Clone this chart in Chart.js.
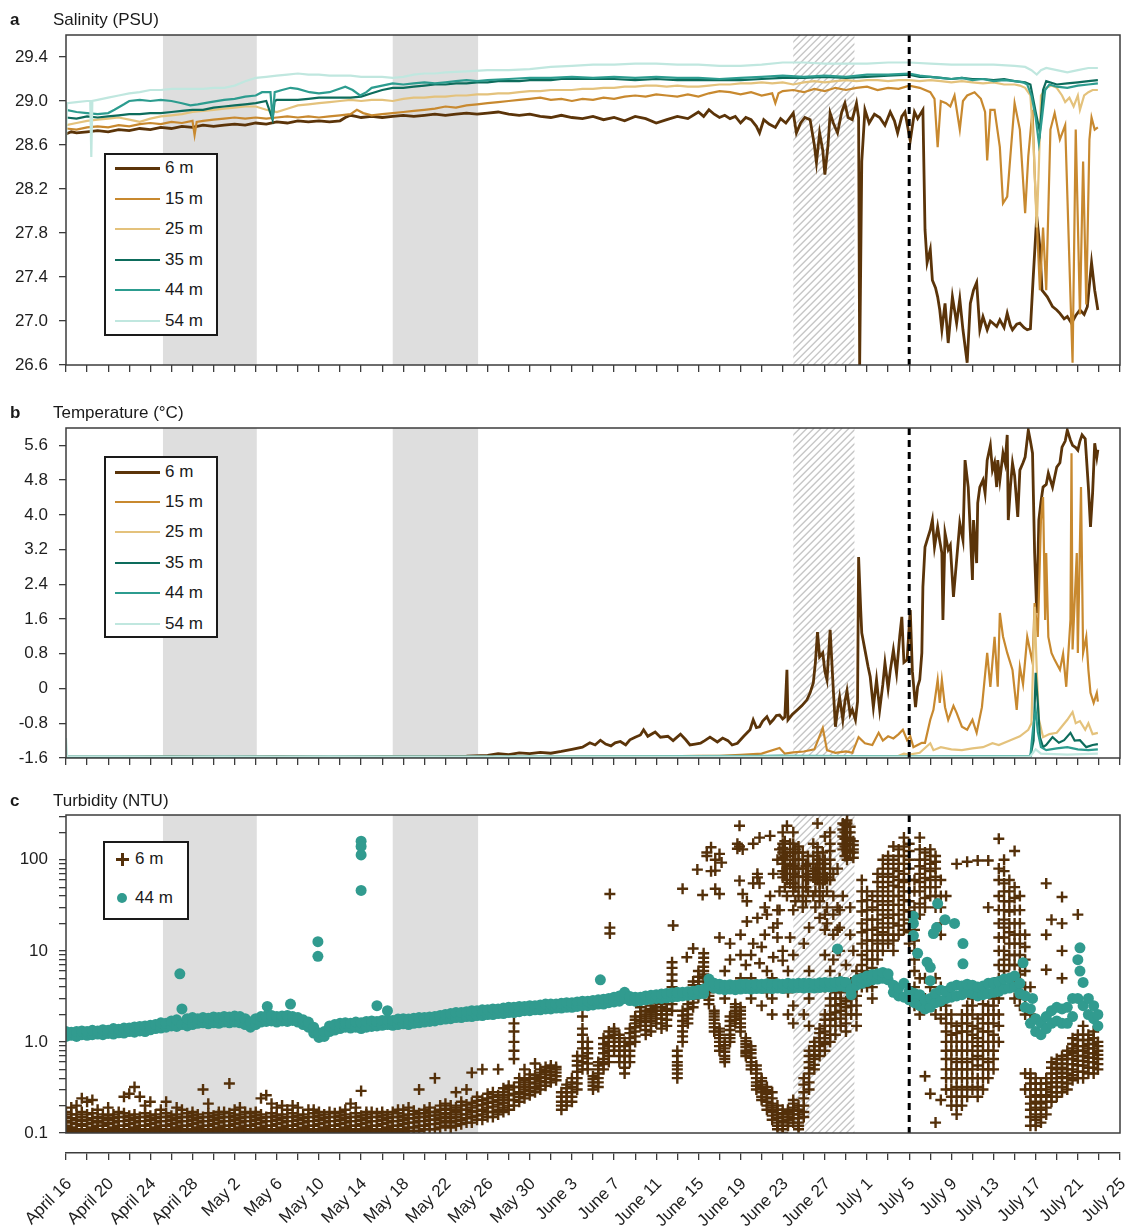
<!DOCTYPE html>
<html>
<head>
<meta charset="utf-8">
<script src="https://cdn.jsdelivr.net/npm/chart.js@4.4.1/dist/chart.umd.min.js"></script>
<style>
  html, body { margin:0; padding:0; background:#ffffff; }
  body { width:1129px; height:1232px; position:relative; overflow:hidden; font-family:"Liberation Sans", Arial, sans-serif; color:#1a1a1a; }
  canvas { position:absolute; left:0; z-index:1; }
  .ptitle { position:absolute; left:53px; font-size:17px; line-height:20px; white-space:nowrap; z-index:3; }
  .pletter { position:absolute; left:10px; font-size:17px; font-weight:bold; line-height:20px; z-index:3; }
  .legend { position:absolute; border:2px solid #1a1a1a; background:#fff; box-sizing:border-box; z-index:3; }
  .lrow { position:absolute; font-size:17px; line-height:20px; white-space:nowrap; }
  .lline { position:absolute; height:3px; }
</style>
</head>
<body>
<div class="pletter" style="top:10px">a</div><div class="ptitle" style="top:10px">Salinity (PSU)</div>
<div class="pletter" style="top:403px">b</div><div class="ptitle" style="top:403px">Temperature (°C)</div>
<div class="pletter" style="top:791px">c</div><div class="ptitle" style="top:791px">Turbidity (NTU)</div>
<canvas id="cA" width="1129" height="380" style="top:0px;width:1129px;height:380px"></canvas>
<canvas id="cB" width="1129" height="395" style="top:380px;width:1129px;height:395px"></canvas>
<canvas id="cC" width="1129" height="370" style="top:775px;width:1129px;height:370px"></canvas>
<canvas id="cD" width="1129" height="87" style="top:1145px;width:1129px;height:87px"></canvas>
<div id="legA" class="legend" style="left:104px;top:153px;width:114px;height:183px"></div>
<div id="legB" class="legend" style="left:104px;top:456px;width:114px;height:182px"></div>
<div id="legC" class="legend" style="left:103px;top:841px;width:86px;height:79px"></div>
<script>
// ---------- categories / labels ----------
const depths = ['6 m', '15 m', '25 m', '35 m', '44 m', '54 m'];
const turbDepths = ['6 m', '44 m'];
const dateLabels = ['April 16','April 20','April 24','April 28','May 2','May 6','May 10','May 14','May 18','May 22','May 26','May 30','June 3','June 7','June 11','June 15','June 19','June 23','June 27','July 1','July 5','July 9','July 13','July 17','July 21','July 25'];
const salTickLabels = ['26.6','27.0','27.4','27.8','28.2','28.6','29.0','29.4'];
const tempTickLabels = ['-1.6','-0.8','0','0.8','1.6','2.4','3.2','4.0','4.8','5.6'];
const turbTickLabels = {0.1:'0.1', 1:'1.0', 10:'10', 100:'100'};
// days since April 16
const grayBands = [[9.2, 18.1], [31.0, 39.1]];
const hatchBand = [69.0, 74.8];
const markerDay = 80;

// ---------- salinity (PSU): [day, value] ----------
const sal6 = [[0,28.70],[0.5,28.72],[1,28.71],[2,28.72],[3,28.73],[4,28.72],[5,28.74],[6,28.73],[7,28.75],[8,28.74],[9,28.76],[10,28.75],[11,28.77],[12,28.76],[13,28.78],[14,28.77],[15,28.78],[16,28.79],[17,28.78],[18,28.80],[19,28.79],[20,28.81],[21,28.80],[22,28.82],[23,28.81],[24,28.82],[25,28.81],[26,28.82],[26.5,28.85],[27,28.87],[27.5,28.86],[28,28.85],[29,28.86],[30,28.85],[31,28.86],[32,28.87],[33,28.86],[34,28.87],[35,28.88],[36,28.87],[37,28.88],[38,28.89],[39,28.88],[40,28.89],[41,28.90],[42,28.88],[43,28.87],[44,28.88],[45,28.86],[46,28.85],[47,28.87],[48,28.85],[49,28.84],[50,28.86],[51,28.83],[52,28.85],[53,28.82],[54,28.86],[55,28.84],[56,28.80],[57,28.83],[58,28.86],[59,28.84],[60,28.90],[60.5,28.86],[61,28.92],[61.5,28.88],[62,28.85],[62.5,28.87],[63,28.84],[63.5,28.86],[64,28.80],[64.5,28.85],[65,28.83],[65.5,28.77],[65.8,28.71],[66.2,28.83],[66.7,28.79],[67.3,28.76],[67.8,28.84],[68.3,28.80],[69,28.89],[69.3,28.71],[69.7,28.80],[70.1,28.85],[70.6,28.83],[71,28.60],[71.2,28.44],[71.5,28.71],[71.8,28.55],[72,28.33],[72.3,28.60],[72.5,28.89],[72.8,28.80],[73.2,28.71],[73.6,28.90],[73.9,28.98],[74.2,28.85],[74.6,28.83],[75,28.98],[75.2,28.85],[75.3,26.60],[75.5,28.45],[75.8,28.92],[76.2,28.80],[76.7,28.88],[77.2,28.85],[77.7,28.78],[78.2,28.90],[78.6,28.82],[78.9,28.71],[79.3,28.86],[79.6,28.90],[80.1,28.64],[80.5,28.90],[80.8,28.84],[81.3,28.92],[81.5,27.83],[81.7,27.53],[82.0,27.65],[82.2,27.37],[82.5,27.30],[82.7,27.22],[82.9,27.10],[83.1,26.92],[83.4,27.16],[83.7,26.80],[84.1,27.22],[84.5,26.98],[84.8,27.20],[85.1,26.92],[85.5,26.62],[85.8,27.16],[86.1,27.28],[86.4,27.35],[86.7,26.92],[87.0,27.04],[87.4,26.92],[87.7,27.00],[87.95,26.98],[88.3,26.95],[88.6,27.01],[89.0,26.94],[89.3,27.07],[89.6,26.96],[89.8,26.92],[90.2,26.97],[90.5,26.98],[90.9,26.94],[91.2,26.92],[91.5,26.93],[91.75,27.37],[92.1,27.95],[92.4,27.67],[92.6,27.28],[93.1,27.22],[93.6,27.13],[94.0,27.10],[94.3,27.07],[94.7,27.02],[95.0,27.04],[95.4,26.98],[95.8,27.05],[96.2,27.10],[96.6,27.06],[96.9,27.13],[97.3,27.53],[97.6,27.28],[97.9,27.10]];
const sal15 = [[0,28.75],[1,28.74],[2,28.76],[3,28.77],[4,28.76],[5,28.78],[6,28.77],[7,28.79],[8,28.80],[9,28.79],[10,28.81],[11,28.80],[12,28.82],[12.2,28.69],[12.4,28.81],[13,28.82],[14,28.83],[15,28.84],[16,28.85],[17,28.84],[18,28.85],[19,28.84],[20,28.85],[21,28.86],[22,28.85],[23,28.86],[24,28.85],[25,28.86],[26,28.87],[27,28.88],[27.6,28.92],[28.2,28.89],[29,28.87],[30,28.88],[31,28.89],[32,28.90],[33,28.91],[34,28.92],[35,28.93],[36,28.95],[37,28.94],[38,28.96],[39,28.97],[40,28.98],[41,28.99],[42,29.00],[43,29.01],[44,29.02],[45,29.03],[46,29.01],[47,29.02],[48,29.00],[49,29.02],[50,29.01],[51,29.03],[52,29.02],[53,29.04],[54,29.05],[55,29.04],[56,29.06],[57,29.05],[58,29.04],[59,29.06],[60,29.04],[61,29.07],[62,29.09],[63,29.08],[64,29.06],[65,29.08],[66,29.05],[67,29.07],[67.3,28.98],[67.6,29.07],[68,29.09],[69,29.10],[70,29.08],[71,29.11],[72,29.09],[73,29.12],[74,29.10],[75,29.12],[76,29.13],[77,29.10],[78,29.12],[79,29.11],[80,29.14],[81,29.12],[82,29.08],[82.4,29.02],[82.7,28.58],[83.0,29.00],[83.5,28.98],[83.9,28.95],[84.3,29.05],[84.8,28.74],[85.1,29.00],[85.5,29.05],[86.2,29.08],[86.8,29.02],[87.2,28.90],[87.4,28.46],[87.7,28.92],[88.1,28.92],[88.6,28.58],[88.9,28.07],[89.3,28.13],[89.6,28.50],[89.8,28.74],[90.0,28.98],[90.5,28.74],[91.0,27.98],[91.3,28.50],[91.7,28.92],[91.9,28.35],[92.4,27.28],[92.7,27.85],[93.0,27.28],[93.4,28.74],[93.8,28.89],[94.3,28.65],[94.8,28.78],[95.3,27.22],[95.5,26.62],[95.8,28.74],[96.2,27.06],[96.5,28.45],[96.8,27.15],[97.1,28.65],[97.3,28.85],[97.6,28.74],[97.9,28.76]];
const sal25 = [[0,28.78],[1,28.80],[2,28.82],[3,28.83],[4,28.84],[5,28.85],[6,28.83],[7,28.81],[8,28.84],[9,28.86],[10,28.87],[11,28.88],[12,28.90],[13,28.91],[14,28.92],[15,28.93],[16,28.94],[17,28.95],[18,28.95],[19,28.92],[20,28.90],[21,28.93],[22,28.96],[23,28.97],[24,28.98],[25,28.99],[26,29.00],[27,29.01],[28,29.00],[29,29.01],[30,29.01],[31,29.00],[32,29.02],[33,29.03],[34,29.03],[35,29.04],[36,29.04],[37,29.05],[38,29.05],[39,29.06],[40,29.06],[41,29.07],[42,29.07],[43,29.08],[44,29.09],[45,29.09],[46,29.10],[47,29.10],[48,29.10],[49,29.11],[50,29.11],[51,29.12],[52,29.12],[53,29.13],[54,29.13],[55,29.14],[56,29.14],[57,29.13],[58,29.14],[59,29.13],[60,29.13],[61,29.14],[62,29.15],[63,29.15],[64,29.16],[65,29.16],[66,29.17],[67,29.16],[68,29.17],[69,29.15],[70,29.17],[71,29.18],[72,29.17],[73,29.18],[74,29.19],[75,29.18],[76,29.19],[77,29.19],[78,29.18],[79,29.19],[80,29.19],[81,29.18],[82,29.19],[83,29.18],[84,29.17],[85,29.18],[86,29.17],[87,29.16],[88,29.17],[89,29.15],[90,29.15],[90.5,29.14],[91,29.12],[91.5,29.05],[91.8,28.60],[92.1,27.85],[92.3,28.40],[92.5,29.05],[93,29.12],[93.5,29.14],[94,29.12],[94.5,29.05],[94.8,28.99],[95.2,29.03],[95.6,28.95],[96,29.05],[96.2,28.92],[96.6,29.05],[97,29.08],[97.4,29.10],[97.9,29.10]];
const sal35 = [[0,28.85],[1,28.84],[2,28.86],[3,28.85],[4,28.86],[5,28.87],[6,28.88],[7,28.88],[8,28.89],[9,28.89],[10,28.90],[11,28.91],[12,28.92],[13,28.92],[14,28.94],[15,28.95],[16,28.96],[17,28.97],[18,28.98],[19,29.00],[19.6,28.83],[19.8,29.00],[20,29.01],[21,29.01],[22,29.01],[23,29.02],[24,29.03],[25,29.03],[26,29.03],[27,29.03],[28,29.04],[29,29.07],[30,29.10],[31,29.12],[32,29.12],[33,29.13],[34,29.14],[35,29.15],[36,29.15],[37,29.16],[38,29.16],[39,29.17],[40,29.17],[41,29.18],[42,29.18],[43,29.18],[44,29.19],[45,29.19],[46,29.19],[47,29.20],[48,29.20],[49,29.20],[50,29.20],[52,29.20],[54,29.19],[56,29.20],[58,29.19],[60,29.19],[62,29.19],[64,29.19],[66,29.20],[68,29.21],[70,29.21],[72,29.22],[74,29.21],[76,29.22],[78,29.23],[80,29.24],[81,29.22],[82,29.22],[83,29.21],[84,29.20],[85,29.21],[86,29.20],[87,29.20],[88,29.19],[89,29.20],[90,29.18],[91,29.17],[91.5,29.15],[92,28.90],[92.4,28.72],[92.7,29.10],[93,29.18],[94,29.15],[95,29.16],[96,29.17],[97,29.18],[97.9,29.19]];
const sal44 = [[0,28.92],[1,28.90],[2,28.89],[3,28.88],[4,28.89],[4.6,28.92],[5.5,28.97],[6,29.00],[7,29.01],[8,29.00],[9,29.01],[10,29.00],[11,28.98],[11.8,28.96],[12.5,28.97],[13.7,28.99],[15,29.01],[16,29.02],[17,29.04],[18,29.05],[18.6,29.08],[19.4,29.08],[19.6,28.83],[19.8,29.08],[20.5,29.10],[21.3,29.12],[22,29.11],[23.1,29.08],[24,29.07],[25,29.08],[26.5,29.13],[27.2,29.10],[27.9,29.05],[28.5,29.08],[29,29.12],[30,29.14],[31,29.16],[32,29.15],[33,29.16],[34,29.17],[35,29.16],[36,29.17],[37,29.18],[38,29.19],[39,29.18],[40,29.19],[42,29.20],[44,29.21],[46,29.21],[48,29.22],[50,29.21],[52,29.22],[54,29.21],[56,29.22],[58,29.21],[60,29.21],[62,29.20],[64,29.21],[66,29.22],[68,29.23],[70,29.22],[72,29.23],[74,29.22],[76,29.24],[78,29.24],[80,29.25],[81,29.23],[82,29.22],[83,29.21],[84,29.20],[85,29.21],[86,29.19],[87,29.20],[88,29.18],[89,29.19],[90,29.18],[90.8,29.17],[91.2,29.15],[91.6,29.05],[92,28.85],[92.3,28.62],[92.6,28.85],[92.9,29.10],[93.3,29.15],[94,29.13],[95,29.12],[96,29.14],[97,29.15],[97.9,29.16]];
const sal54 = [[0,28.62],[0.1,28.98],[1,28.99],[2,29.00],[2.3,29.00],[2.4,28.49],[2.5,29.00],[3,29.01],[4,29.03],[5,29.05],[6,29.07],[7,29.08],[8,29.10],[9,29.10],[10,29.11],[11,29.11],[12,29.11],[13,29.11],[14,29.12],[15,29.12],[16,29.14],[17,29.18],[18,29.21],[19,29.22],[20,29.23],[21,29.24],[22,29.25],[23,29.24],[24,29.24],[25,29.23],[26,29.23],[27,29.23],[28,29.22],[29,29.22],[30,29.22],[31,29.21],[32,29.22],[33,29.24],[34,29.25],[35,29.25],[36,29.26],[38,29.27],[40,29.28],[42,29.28],[44,29.29],[46,29.31],[48,29.32],[50,29.33],[52,29.33],[54,29.34],[56,29.34],[58,29.33],[60,29.33],[62,29.32],[64,29.32],[66,29.33],[68,29.35],[70,29.35],[72,29.34],[74,29.34],[76,29.34],[78,29.35],[80,29.35],[82,29.34],[84,29.33],[86,29.33],[88,29.33],[90,29.32],[91,29.31],[91.6,29.28],[92.1,29.24],[92.5,29.28],[93,29.30],[94,29.28],[95,29.26],[96,29.28],[97,29.30],[97.9,29.30]];

// ---------- temperature (°C): [day, value] ----------
const temp6 = [[0,-1.58],[5,-1.58],[10,-1.57],[15,-1.58],[20,-1.57],[25,-1.58],[30,-1.57],[35,-1.57],[38,-1.56],[40,-1.54],[41,-1.50],[42,-1.52],[43,-1.48],[44,-1.50],[45,-1.47],[46,-1.49],[47,-1.45],[48,-1.40],[49,-1.35],[49.7,-1.25],[50.2,-1.30],[50.7,-1.19],[51.2,-1.28],[51.7,-1.32],[52.1,-1.25],[52.6,-1.22],[53.1,-1.30],[53.5,-1.18],[54,-1.12],[54.5,-1.07],[54.8,-0.95],[55.2,-1.10],[55.9,-1.00],[56.4,-1.12],[57.1,-1.10],[57.6,-1.20],[58.3,-1.05],[58.8,-1.18],[59.2,-1.30],[59.7,-1.28],[60.2,-1.26],[60.6,-1.20],[61.1,-1.12],[61.8,-1.23],[62.3,-1.14],[62.8,-1.20],[63.2,-1.30],[63.7,-1.26],[64.3,-1.10],[64.9,-0.95],[65.2,-0.72],[65.5,-0.90],[65.8,-0.88],[66.1,-0.75],[66.5,-0.65],[66.8,-0.80],[67.1,-0.72],[67.4,-0.62],[67.7,-0.61],[68.0,-0.70],[68.2,-0.66],[68.4,0.43],[68.5,-0.72],[68.9,-0.60],[69.4,-0.49],[69.8,-0.40],[70.3,-0.26],[70.6,-0.10],[70.9,0.13],[71.1,0.60],[71.3,1.30],[71.5,0.73],[71.8,0.82],[72.0,0.40],[72.2,0.20],[72.5,1.35],[72.8,-0.03],[73.0,-0.88],[73.2,-0.50],[73.4,-0.20],[73.7,-0.72],[73.9,-0.30],[74.1,-0.05],[74.4,-0.60],[74.6,-0.49],[74.9,-0.72],[75.1,-0.30],[75.2,3.03],[75.4,1.80],[75.5,1.28],[75.8,0.89],[76.1,0.50],[76.3,0.27],[76.6,-0.43],[76.9,0.20],[77.2,-0.49],[77.5,0.10],[77.7,0.59],[78.0,0.00],[78.2,0.40],[78.5,0.89],[78.8,0.35],[79.1,1.20],[79.3,1.65],[79.5,0.60],[79.8,0.66],[80.1,1.81],[80.3,0.40],[80.6,-0.43],[80.8,0.04],[81.0,0.20],[81.2,0.82],[81.3,2.34],[81.5,3.26],[81.8,3.50],[82.0,3.65],[82.2,3.88],[82.4,3.26],[82.7,3.72],[82.9,3.40],[83.1,3.12],[83.2,1.58],[83.4,3.58],[83.7,3.20],[83.9,3.30],[84.2,2.11],[84.5,2.96],[84.8,3.81],[85.1,3.42],[85.3,5.26],[85.6,4.64],[85.8,3.60],[86.0,2.50],[86.1,3.88],[86.4,2.89],[86.5,4.27],[86.7,4.64],[87.0,4.80],[87.2,4.50],[87.4,5.26],[87.7,5.60],[87.9,5.03],[88.1,5.20],[88.3,4.64],[88.4,5.26],[88.6,4.80],[88.9,5.42],[89.1,5.20],[89.3,5.84],[89.4,3.88],[89.6,4.64],[89.8,5.19],[90.0,4.90],[90.3,3.95],[90.5,5.03],[90.8,5.20],[91.0,5.33],[91.3,5.95],[91.5,5.70],[91.7,5.42],[91.9,3.12],[92.1,1.74],[92.3,3.88],[92.5,4.30],[92.7,4.64],[93.0,4.70],[93.2,4.96],[93.4,4.80],[93.6,4.64],[94.0,5.10],[94.3,5.20],[94.5,5.56],[94.8,5.70],[95.0,5.95],[95.3,5.72],[95.5,5.60],[95.8,5.55],[96.0,5.49],[96.2,5.70],[96.4,5.84],[96.7,5.75],[97.0,4.64],[97.2,3.72],[97.4,4.50],[97.6,5.65],[97.8,5.33],[97.9,5.50]];
const temp15 = [[0,-1.58],[10,-1.58],[20,-1.58],[30,-1.58],[40,-1.58],[50,-1.57],[55,-1.57],[60,-1.55],[62,-1.55],[64,-1.53],[66,-1.50],[67.7,-1.37],[68.2,-1.50],[69,-1.47],[70,-1.45],[71,-1.40],[71.8,-0.91],[72.2,-1.42],[73,-1.48],[74,-1.45],[74.6,-1.48],[75.2,-1.12],[75.8,-1.26],[76.5,-1.30],[77.1,-1.02],[77.5,-1.20],[78.0,-1.10],[78.5,-1.15],[79.0,-1.05],[79.4,-0.95],[79.8,-1.19],[80.1,-1.10],[80.4,-1.35],[80.8,-1.30],[81.2,-1.25],[81.5,-1.25],[82.0,-0.72],[82.3,-0.49],[82.7,0.20],[82.9,-0.33],[83.1,0.20],[83.4,-0.43],[83.7,-0.72],[84.2,-0.40],[84.5,-0.56],[85.0,-0.88],[85.5,-0.95],[86.0,-0.72],[86.4,-1.02],[86.9,-0.43],[87.4,0.82],[87.7,0.04],[88.1,1.19],[88.4,0.04],[88.6,1.74],[88.9,1.20],[89.3,0.82],[89.8,0.43],[90.2,-0.49],[90.5,0.50],[90.8,0.10],[91.2,1.19],[91.7,0.60],[91.9,1.97],[92.2,1.19],[92.5,3.88],[92.7,4.41],[92.9,1.58],[93.0,3.12],[93.2,1.19],[93.5,0.82],[93.8,0.66],[94.3,0.43],[94.6,0.80],[94.9,0.04],[95.3,1.58],[95.4,5.42],[95.5,0.90],[95.9,3.12],[96.0,0.82],[96.3,4.64],[96.5,0.82],[96.8,1.19],[97.0,0.43],[97.2,-0.10],[97.5,-0.33],[97.8,-0.10],[97.9,-0.30]];
const temp25 = [[0,-1.58],[20,-1.58],[40,-1.58],[60,-1.57],[70,-1.56],[75,-1.56],[79,-1.55],[79.5,-1.50],[80,-1.52],[81,-1.48],[82,-1.26],[82.3,-1.42],[83,-1.35],[84,-1.40],[85,-1.42],[86,-1.38],[87,-1.35],[87.9,-1.26],[88.5,-1.30],[89.6,-1.19],[90.5,-1.10],[91.3,-0.95],[91.6,-0.80],[91.9,1.88],[92.1,0.43],[92.3,-0.70],[92.7,-1.12],[93.3,-1.05],[94.0,-1.02],[95.0,-0.72],[95.5,-0.54],[95.8,-0.80],[96.2,-0.75],[96.7,-0.95],[97.0,-0.80],[97.4,-1.05],[97.9,-1.02]];
const temp35 = [[0,-1.59],[30,-1.59],[60,-1.58],[68,-1.55],[69,-1.58],[75,-1.57],[80,-1.57],[88,-1.57],[91.5,-1.56],[91.8,-1.20],[92.0,0.36],[92.2,-0.33],[92.4,-1.12],[92.7,-1.35],[93.0,-1.30],[93.6,-1.12],[94.2,-1.25],[94.7,-1.19],[95.3,-1.02],[95.7,-1.20],[96.2,-1.19],[96.8,-1.35],[97.4,-1.30],[97.9,-1.28]];
const temp44 = [[0,-1.57],[40,-1.57],[69,-1.55],[80,-1.56],[91.5,-1.55],[91.8,-0.80],[92.0,-0.50],[92.2,-1.00],[92.5,-1.35],[93,-1.42],[94,-1.38],[95,-1.35],[96,-1.40],[97,-1.42],[97.9,-1.40]];
const temp54 = [[0,-1.14],[0.1,-1.56],[40,-1.57],[80,-1.57],[91.5,-1.56],[92,-1.40],[92.5,-1.50],[95,-1.52],[97.9,-1.50]];

// ---------- turbidity (NTU) ----------
// 44 m: [day, lower, upper] of the dense band
const tur44 = [[0,1.15,1.30],[0.5,1.18,1.28],[1,1.15,1.30],[1.5,1.20,1.32],[2,1.18,1.30],[2.5,1.20,1.34],[3,1.22,1.32],[3.5,1.20,1.36],[4,1.24,1.34],[4.5,1.22,1.40],[5,1.26,1.38],[5.5,1.25,1.42],[6,1.30,1.42],[6.5,1.28,1.46],[7,1.32,1.48],[7.5,1.30,1.50],[8,1.36,1.52],[8.5,1.40,1.55],[9,1.42,1.62],[9.5,1.45,1.60],[10,1.50,1.70],[10.5,1.48,1.75],[11,1.55,2.30],[11.5,1.50,1.80],[12,1.55,1.85],[12.5,1.60,1.80],[13,1.62,1.85],[13.5,1.58,1.82],[14,1.62,1.88],[14.5,1.60,1.85],[15,1.65,1.90],[15.5,1.62,1.88],[16,1.65,1.92],[16.5,1.62,1.90],[17,1.55,1.80],[17.5,1.45,1.65],[18,1.55,1.80],[18.5,1.65,1.90],[19,1.68,1.92],[19.5,1.70,1.95],[20,1.65,1.90],[20.5,1.70,1.92],[21,1.68,1.95],[21.5,1.72,1.90],[22,1.65,1.85],[22.5,1.55,1.75],[23,1.45,1.65],[23.5,1.25,1.45],[24,1.12,1.25],[24.5,1.15,1.30],[25,1.30,1.50],[25.5,1.35,1.55],[26,1.40,1.60],[26.5,1.45,1.62],[27,1.42,1.60],[27.5,1.45,1.65],[28,1.40,1.62],[28.5,1.45,1.68],[29,1.48,1.70],[29.5,1.50,1.68],[30,1.52,1.72],[30.5,1.55,1.75],[31,1.52,1.72],[31.5,1.55,1.78],[32,1.58,1.80],[32.5,1.55,1.78],[33,1.60,1.82],[33.5,1.62,1.85],[34,1.65,1.85],[34.5,1.68,1.88],[35,1.70,1.90],[35.5,1.75,1.95],[36,1.78,2.00],[36.5,1.80,2.05],[37,1.85,2.10],[37.5,1.85,2.10],[38,1.90,2.15],[38.5,1.90,2.20],[39,1.95,2.20],[39.5,1.95,2.25],[40,2.00,2.25],[40.5,2.00,2.30],[41,2.05,2.30],[41.5,2.05,2.35],[42,2.10,2.40],[42.5,2.10,2.40],[43,2.15,2.45],[43.5,2.20,2.45],[44,2.20,2.50],[44.5,2.25,2.50],[45,2.25,2.55],[45.5,2.30,2.60],[46,2.30,2.60],[46.5,2.35,2.60],[47,2.35,2.65],[47.5,2.40,2.70],[48,2.40,2.70],[48.5,2.45,2.75],[49,2.50,2.80],[49.5,2.50,2.80],[50,2.55,2.85],[50.5,2.60,2.90],[51,2.60,2.95],[51.5,2.70,3.00],[52,2.75,3.10],[52.5,2.80,3.20],[53,3.00,3.50],[53.5,2.85,3.15],[54,2.80,3.10],[54.5,2.85,3.10],[55,2.90,3.20],[55.5,2.95,3.25],[56,3.00,3.30],[56.5,3.00,3.35],[57,3.05,3.40],[57.5,3.10,3.45],[58,3.15,3.50],[58.5,3.20,3.50],[59,3.25,3.55],[59.5,3.30,3.60],[60,3.35,3.70],[60.5,3.40,3.80],[61,4.20,4.90],[61.5,3.90,4.40],[62,3.80,4.30],[62.5,3.75,4.20],[63,3.80,4.25],[63.5,3.75,4.20],[64,3.80,4.30],[64.5,3.85,4.30],[65,3.80,4.25],[65.5,3.85,4.30],[66,3.85,4.30],[66.5,3.90,4.35],[67,3.85,4.30],[67.5,3.90,4.35],[68,3.85,4.30],[68.5,3.90,4.40],[69,3.90,4.35],[69.5,3.95,4.40],[70,3.90,4.40],[70.5,3.95,4.40],[71,3.90,4.35],[71.5,3.95,4.45],[72,4.00,4.50],[72.5,4.00,4.45],[73,4.05,4.50],[73.5,4.10,4.60],[74,4.00,4.50],[74.5,3.30,3.80],[75,4.20,4.80],[75.5,4.40,5.00],[76,4.60,5.30],[76.5,4.80,5.50],[77,4.90,5.60],[77.5,5.00,5.80],[78,4.80,5.60],[78.5,3.50,4.20],[79,3.20,3.90],[79.5,3.10,4.40],[80,2.90,3.60],[80.5,2.70,3.40],[81,2.50,3.30],[81.5,2.30,2.90],[82,2.40,3.00],[82.5,2.70,3.40],[83,2.80,3.70],[83.5,3.00,3.60],[84,3.10,4.00],[84.5,3.20,4.20],[85,3.30,4.10],[85.5,3.50,4.30],[86,3.40,4.20],[86.5,3.20,4.00],[87,3.30,4.10],[87.5,3.40,4.40],[88,3.50,4.50],[88.5,3.60,4.60],[89,3.80,4.90],[89.5,3.90,5.00],[90,4.00,5.30],[90.5,3.40,4.40],[91,2.40,3.20],[91.5,1.60,2.30],[92,1.30,1.80],[92.5,1.20,1.60],[93,1.40,1.90],[93.5,1.60,2.20],[94,1.70,2.40],[94.5,1.60,2.30],[95,1.60,2.40],[95.5,1.90,3.00],[96,3.00,8.00],[96.2,6.0,10.8],[96.5,2.50,4.50],[97,2.00,3.00],[97.5,1.80,2.50],[97.9,1.50,2.00]];
// 44 m isolated readings: [day, value]
const tur44Out = [[10.8,5.6],[19.1,2.45],[21.3,2.6],[23.9,12.6],[23.9,8.7],[28.0,160],[28.0,140],[28.0,113],[28.0,46],[29.5,2.5],[30.5,2.2],[50.7,4.8],[73.2,10.5],[80.4,24],[80.4,20],[80.4,14.7],[80.8,9.4],[81.7,7.5],[82.0,6.6],[82.0,4.7],[82.7,33],[82.6,18],[82.3,15.5],[83.4,22],[84.3,20],[85.1,12],[85.1,7.2],[90.8,7.4],[91.7,3.0]];
// 6 m: [day, readings...]
const tur6 = [[0,.10,.11,.12,.135,.15,.17],[0.5,.105,.115,.13,.145,.16,.19],[1,.10,.11,.125,.14,.16,.2],[1.5,.105,.12,.135,.15,.17,.24],[2,.10,.11,.125,.14,.16,.22],[2.5,.105,.115,.13,.145,.165,.23],[3,.10,.11,.12,.135,.15,.18],[3.5,.105,.12,.13,.145,.16],[4,.10,.11,.125,.14,.155,.19],[4.5,.105,.115,.13,.145,.16],[5,.10,.11,.12,.135,.15,.17],[5.5,.105,.12,.135,.15,.165,.25],[6,.10,.11,.125,.14,.155,.27],[6.5,.105,.115,.13,.145,.16,.32],[7,.10,.11,.12,.135,.15,.25],[7.5,.105,.12,.135,.15,.165,.2],[8,.10,.11,.125,.14,.155,.22],[8.5,.105,.115,.13,.145,.16],[9,.10,.11,.12,.135,.15,.18],[9.5,.105,.12,.135,.15,.165,.22],[10,.10,.11,.125,.14,.155],[10.5,.105,.115,.13,.145,.16,.19],[11,.10,.11,.12,.135,.15,.18],[11.5,.105,.12,.135,.15,.165],[12,.10,.11,.125,.14,.155,.17],[12.5,.105,.115,.13,.145,.16],[13,.10,.11,.12,.135,.15,.3],[13.5,.105,.12,.135,.15,.165,.21],[14,.10,.11,.125,.14,.155],[14.5,.105,.115,.13,.145,.16,.17],[15,.10,.11,.12,.135,.15,.17],[15.5,.105,.12,.135,.15,.165,.35],[16,.10,.11,.125,.14,.155,.18],[16.5,.105,.115,.13,.145,.16,.19],[17,.10,.11,.12,.135,.15,.17],[17.5,.105,.12,.135,.15,.165],[18,.10,.11,.125,.14,.155,.17],[18.5,.105,.115,.13,.145,.16,.24],[19,.10,.11,.12,.135,.15,.26],[19.5,.105,.12,.135,.15,.165,.21],[20,.10,.11,.125,.14,.155,.19],[20.5,.105,.115,.13,.145,.16,.2],[21,.10,.11,.12,.135,.15,.18],[21.5,.105,.12,.135,.15,.165,.2],[22,.10,.11,.125,.14,.155,.19],[22.5,.105,.115,.13,.145,.16],[23,.10,.11,.12,.135,.15,.18],[23.5,.105,.12,.135,.15,.165,.18],[24,.10,.11,.125,.14,.155,.17],[24.5,.105,.115,.13,.145,.16],[25,.10,.11,.12,.135,.15,.17],[25.5,.105,.12,.135,.15,.165],[26,.10,.11,.125,.14,.155,.17],[26.5,.105,.115,.13,.145,.16,.18],[27,.10,.11,.12,.135,.15,.21],[27.5,.105,.12,.135,.15,.165,.19],[28,.10,.11,.125,.14,.155,.29],[28.5,.105,.115,.13,.145,.16,.17],[29,.10,.11,.12,.135,.15,.17],[29.5,.105,.12,.135,.15,.165],[30,.10,.11,.125,.14,.155,.17],[30.5,.105,.115,.13,.145,.16],[31,.10,.11,.12,.135,.15,.17],[31.5,.105,.12,.135,.15,.165,.18],[32,.10,.11,.125,.14,.155,.18],[32.5,.105,.115,.13,.145,.16,.19],[33,.105,.115,.13,.145,.16,.175],[33.5,.105,.12,.135,.15,.165,.3],[34,.11,.12,.135,.15,.165,.18],[34.5,.11,.125,.14,.155,.17,.19],[35,.11,.125,.14,.155,.17,.4],[35.5,.115,.13,.145,.16,.18,.2],[36,.12,.135,.15,.165,.185,.21],[36.5,.115,.13,.145,.16,.18,.2],[37,.12,.135,.15,.17,.19,.28],[37.5,.125,.14,.16,.18,.2,.22],[38,.13,.145,.16,.18,.205,.3],[38.5,.13,.15,.17,.19,.215,.46],[39,.14,.155,.175,.2,.225,.25],[39.5,.14,.16,.18,.205,.23,.5],[40,.15,.17,.19,.215,.24,.27],[40.5,.15,.17,.195,.22,.25,.28],[41,.16,.18,.205,.23,.26,.5],[41.5,.17,.19,.215,.245,.28,.31],[42,.18,.2,.23,.26,.3,.33],[42.5,.2,.23,.27,.32,.65,.8,1.0,1.3,1.6],[43,.22,.25,.28,.32,.36,.4],[43.5,.24,.27,.3,.34,.38,.5],[44,.26,.29,.32,.36,.4,.44],[44.5,.28,.31,.35,.39,.43,.58],[45,.3,.33,.37,.41,.46,.5],[45.5,.33,.36,.4,.44,.48,.53],[46,.36,.39,.43,.47,.51,.55],[46.5,.38,.42,.46,.5,.53],[47,.18,.2,.22,.25,.28],[47.5,.2,.22,.25,.28,.31,.34],[48,.22,.25,.28,.32,.36,.4],[48.5,.3,.35,.4,.47,.55,.62,.7],[49,.5,.6,.7,.85,1.0,1.2,1.4,1.9],[49.5,.5,.58,.66,.75,.85,1.0],[50,.3,.33,.36,.39,.42],[50.5,.32,.36,.4,.45,.5,.55,.6],[51,.5,.57,.65,.75,.85,.95,1.1],[51.5,.6,.7,.8,.9,1.0,1.15,1.3],[52,.8,.9,1.0,1.1,1.2,1.3,1.4],[52.5,.6,.7,.8,.9,1.0,1.1,1.2],[53,.45,.52,.6,.7,.8,.9,1.0],[53.5,.6,.7,.8,.95,1.1,1.25,1.4],[54,1.0,1.15,1.3,1.45,1.6,1.75,1.9],[54.5,1.5,1.7,1.9,2.15,2.4,2.65,2.9],[55,1.2,1.35,1.5,1.65,1.8,2.0,2.2],[55.5,1.3,1.5,1.7,1.9,2.1,2.3,2.5],[56,1.6,1.8,2.0,2.2,2.4,2.65,2.9],[56.5,1.4,1.6,1.8,2.0,2.2,2.4,2.6],[57,1.5,1.75,2.0,2.3,2.6,2.9,3.2],[57.5,2.2,2.6,3.0,3.5,4.0,4.7,5.5,6.5,7.5],[58,.4,.45,.5,.55,.6,.7,.8],[58.5,1.0,1.15,1.3,1.5,1.7,1.95,2.2],[59,1.6,1.8,2.0,2.3,2.6,3.0,3.4],[59.5,2.4,2.7,3.0,3.4,3.8,4.2,4.6],[60,3.1,3.4,3.8,4.2,4.6,5.2,6.0],[60.5,5.0,5.5,6.0,6.7,7.5,8.4,9.4],[61,2.6,2.9,3.2,3.5,3.8,4.1,4.4],[61.5,1.3,1.45,1.6,1.75,1.9,2.05,2.2],[62,.8,.9,1.0,1.1,1.2,1.3,1.4],[62.5,.6,.65,.7,.78,.85,.92,1.0,3,6],[63,1.0,1.1,1.2,1.35,1.5,1.7,1.9,8,12],[63.5,1.6,1.75,1.9,2.05,2.2,2.4,2.6],[64,1.3,1.45,1.6,1.8,2.0,2.2,2.4,5,9,15],[64.5,.7,.75,.8,.88,.95,1.02,1.1,4,7],[65,.5,.55,.6,.67,.75,.82,.9,3,5,9],[65.5,.3,.33,.36,.4,.45,.5,.55],[66,.23,.25,.28,.31,.34,.37,.4,2.5,4,11],[66.5,.18,.2,.22,.245,.27,.295,.32,3.5,6,25],[67,.14,.155,.17,.19,.21,.24,.28,2,3,5],[67.5,.11,.12,.13,.145,.16,.18,.2],[68,.1,.11,.12,.135,.15,.165,.18,4,10],[68.5,.12,.13,.14,.15,.16,.17,.18,2,3.5,6],[69,.13,.145,.16,.175,.19,.21,.23,1.6,2.5,9],[69.5,.11,.12,.13,.145,.16,.18,.2],[70,.15,.17,.2,.24,.28,.34,.4,2,4,12],[70.5,.3,.36,.45,.52,.6,.7,.8,1.5,3,6,18],[71,.5,.56,.65,.72,.8,.9,1.0],[71.5,.7,.8,.9,1.0,1.1,1.25,1.4],[72,.8,.95,1.1,1.3,1.5,1.75,2.0,4,9],[72.5,1.0,1.2,1.5,1.75,2.0,2.5,3,6],[73,1.2,1.5,1.8,2.1,2.5,3.0,3.5,4.5],[73.5,1.5,1.8,2.2,2.6,3.0,3.5,4.0],[74,1.3,1.6,2.0,2.4,2.8,4,7],[74.5,2.0,2.5,3.0,3.7,4.5],[75,1.5,2.0,2.5,3.2,4,5,6],[75.5,4,5.5,7,9,12,16,20,27,35,45,60],[76,4,5,6,8,10,13,17,22,28,36,45],[76.5,3,4,5,6.5,8,10,13,17,22,30,40],[77,8,10,12,15,18,22,28,35,45,57,70],[77.5,10,13,16,20,25,32,40,50,65,80,100],[78,12,15,18,23,28,35,45,57,70,90,110],[78.5,10,13,15,20,25,32,40,52,65,80,100,140],[79,15,19,25,32,40,50,60,75,90,110,130],[79.5,17,22,28,36,45,57,70,90,110,140,175],[80,12,16,20,27,35,45,60,80,100,125,150],[80.5,2.5,4,6,8,10,13,17,23,30,45,60],[81,2,3,5,25,33,45,57,70,85,100,130,175],[81.5,3,5,30,38,50,63,80,100,120,.42],[82,2.5,4,40,50,60,75,90,110,130,.27],[82.5,2,3,5,30,40,50,65,80,95,110,.13],[83,1.8,2.5,4,15,20,30,40,60,.23],[83.5,.3,.4,.5,.65,.8,1.0,1.3,1.6,2,2.5,3,40],[84,.2,.25,.3,.4,.5,.65,.8,1.0,1.2,1.6,2],[84.5,.16,.2,.25,.32,.4,.5,.6,.8,1.0,1.25,1.5,90],[85,.2,.25,.3,.4,.5,.65,.8,1.0,1.3,1.6,2],[85.5,.25,.32,.4,.5,.6,.8,1.0,1.3,1.6,2.0,2.5,95],[86,.3,.4,.5,.65,.8,1.0,1.2,1.5,2,2.5,3],[86.5,.25,.32,.4,.55,.7,.9,1.1,1.4,1.8,98],[87,.3,.4,.5,.65,.8,1.0,1.3,1.6,2,2.6,3.4],[87.5,.4,.5,.6,.8,1.0,1.3,1.6,2.0,2.5,30,98],[88,.5,.65,.8,1.0,1.2,1.6,2,2.5,3],[88.5,1,1.5,2,3,5,7,10,14,20,28,40,60,80,170],[89,5,6,8,10,14,18,22,28,35,45,55,75,100],[89.5,4,5,7,9,12,16,20,27,35,45,60],[90,3,4,5,7,9,12,15,20,28,38,50,125],[90.5,2.5,3.2,4,5.5,7,9,12,15,20,28,40],[91,.3,.45,2,3,4,6,8,11,15],[91.5,.12,.15,.18,.21,.25,.3,.35,.4,.45,2,4],[92,.12,.14,.16,.19,.22,.26,.3,.35,.4],[92.5,.13,.15,.18,.21,.25,.3,.35],[93,.16,.19,.22,.26,.3,.35,.4,6.2,15,55],[93.5,.22,.25,.28,.32,.36,.4,.45,.52,.6,22],[94,.25,.28,.32,.36,.4,.45,.5,.57,.65],[94.5,.28,.32,.36,.41,.46,.52,.58,.64,.7,5,10,20,39],[95,.3,.35,.4,.45,.5,.57,.65,.72,.8],[95.5,.38,.43,.5,.57,.65,.75,.85,.95,1.1],[96,.4,.47,.55,.62,.7,.8,.9,1.05,1.2,25],[96.5,.4,.47,.55,.62,.7,.8,.9,1.05,1.2,1.5],[97,.45,.52,.6,.67,.75,.85,.95,1.05,1.2],[97.5,.45,.52,.6,.67,.75,.85,.95,1.1,1.3],[97.9,.5,.57,.65,.72,.8,.9,1.0]];
// 6 m high-turbidity clusters: [day, readings...]
const tur6Up = [[51.6,15.5,18,42],[57.6,19],[58.5,48],[58.9,8.5],[59.5,10.6],[59.9,78],[60.4,41],[60.8,110,120],[61.2,75,137],[61.6,48,76,100],[62.0,14,42,116],[62.2,93],[63.7,132,150],[63.9,59,140,236],[64.2,42,130],[64.6,21,35],[65.2,12,55,150],[65.6,23,64,70],[65.8,7.3,55,175],[66.3,15,30],[66.8,40,183],[67.1,8.5,18,70],[67.5,14,20,28,100],[67.7,28,45,130],[68.0,7.8,64,75,90,105,120,135,150,200],[68.2,50,70,90,110,130,160],[68.4,40,60,80,110,236],[68.7,14,55,70,90,120,150],[69.0,28,45,55,70,85,100,120,150,200],[69.2,35,50,65,80,100,130],[69.5,40,50,65,80,100,120,140],[69.9,30,40,50,65,80,100,120],[70.2,35,50,65,85],[70.4,45,60,70,90,110],[70.9,40,64,75,90,110,150],[71.1,30,45,60,80],[71.3,60,70,80,90,100,120,137,250],[71.5,23,35,45,55,65,80,100],[71.8,40,55,70,90,120],[72.0,17,25,60,70,80,90,100,180],[72.2,20,30,45,64],[72.5,60,80,100,125,150,200],[72.8,8,15,25,40,70],[73.2,10,17,30,80],[73.4,5,10,18,28],[73.7,40,130,150,180,215,250],[73.9,110,140,170,200,240],[74.1,100,125,150,175,200,250,270],[74.4,15,30,120,145,170,200,230],[74.7,10,105,120,130,145,160]];

// ---------- styles ----------
const lineColors = ['#5b3409', '#c8892f', '#e4c27c', '#0d6c5c', '#2c9c8f', '#c0e7df'];
const lineWidths = [2.8, 2.2, 2.2, 2.2, 2.2, 2.2];
const turbColors = ['#54300a', '#319b8f'];
const frameColor = '#3c3c3c';

// ---------- helpers ----------
const toXY = arr => arr.map(p => ({x: p[0], y: p[1]}));
const spread = arr => { const out = []; arr.forEach(e => { for (let i = 1; i < e.length; i++) out.push({x: e[0], y: e[i]}); }); return out; };
const xTickVals = []; for (let d = 0; d <= 100; d += 2) xTickVals.push(d);
const salTickVals = []; for (let i = 0; i <= 15; i++) salTickVals.push(+(26.6 + 0.2 * i).toFixed(1));
const tempTickVals = []; for (let i = 0; i <= 19; i++) tempTickVals.push(+(-1.6 + 0.4 * i).toFixed(1));
const logTickVals = []; [0.1, 1, 10, 100].forEach(dec => { for (let m = 1; m <= 9; m++) { const v = +(m * dec).toPrecision(3); if (v <= 300) logTickVals.push(v); } });

Chart.defaults.font.family = '"Liberation Sans", Arial, sans-serif';
Chart.defaults.font.size = 17;
Chart.defaults.color = '#1e1e1e';
Chart.defaults.animation = false;

const decor = {
  id: 'decor',
  beforeDatasetsDraw(chart) {
    const {ctx, chartArea: a, scales: {x}} = chart;
    ctx.save();
    ctx.beginPath(); ctx.rect(a.left, a.top, a.right - a.left, a.bottom - a.top); ctx.clip();
    ctx.fillStyle = '#dedede';
    grayBands.forEach(([s, e]) => {
      const x0 = x.getPixelForValue(s), x1 = x.getPixelForValue(e);
      ctx.fillRect(x0, a.top, x1 - x0, a.bottom - a.top);
    });
    const h0 = x.getPixelForValue(hatchBand[0]), h1 = x.getPixelForValue(hatchBand[1]);
    ctx.beginPath(); ctx.rect(h0, a.top, h1 - h0, a.bottom - a.top); ctx.clip();
    ctx.strokeStyle = '#c6c6c6'; ctx.lineWidth = 1.3;
    const H = a.bottom - a.top;
    for (let k = h0 - H; k < h1 + 8; k += 7) {
      ctx.beginPath(); ctx.moveTo(k, a.bottom); ctx.lineTo(k + H, a.top); ctx.stroke();
    }
    ctx.restore();
  },
  afterDatasetsDraw(chart) {
    const {ctx, chartArea: a, scales: {x}} = chart;
    ctx.save();
    const xm = x.getPixelForValue(markerDay);
    ctx.strokeStyle = '#000'; ctx.lineWidth = 3; ctx.setLineDash([7, 5]);
    ctx.beginPath(); ctx.moveTo(xm, a.top); ctx.lineTo(xm, a.bottom); ctx.stroke();
    ctx.setLineDash([]);
    ctx.strokeStyle = frameColor; ctx.lineWidth = 1.5;
    ctx.strokeRect(a.left, a.top, a.right - a.left, a.bottom - a.top);
    ctx.restore();
  }
};

const tickGrid = {display: true, drawOnChartArea: false, drawTicks: true, tickLength: 7, color: frameColor, lineWidth: 1.3};
const yFit = s => { s.width = 66; s.paddingTop = 0; s.paddingBottom = 0; };

function xScale(showLabels, height) {
  return {
    type: 'linear', min: 0, max: 100,
    afterBuildTicks: s => { s.ticks = xTickVals.map(v => ({value: v})); },
    ticks: showLabels ? {
      display: true, autoSkip: false, maxRotation: 45, minRotation: 45, padding: 14, labelOffset: 3,
      font: {size: 17}, color: '#1e1e1e',
      callback: v => (v % 4 === 0 ? dateLabels[v / 4] : '')
    } : {display: false},
    grid: tickGrid,
    border: showLabels ? {display: true, color: frameColor, width: 1.5} : {display: false},
    afterFit: s => { s.height = height; s.paddingLeft = 0; s.paddingRight = 0; }
  };
}

function linePanel(id, series, pad, ymin, ymax, yTicks, labelFor) {
  new Chart(document.getElementById(id), {
    type: 'line',
    data: {
      datasets: series.map((s, i) => ({
        label: depths[i], data: toXY(s), borderColor: lineColors[i], borderWidth: lineWidths[i],
        pointRadius: 0, tension: 0, fill: false, order: series.length - i
      }))
    },
    options: {
      responsive: false, animation: false,
      layout: {padding: pad},
      plugins: {legend: {display: false}, tooltip: {enabled: false}},
      scales: {
        x: xScale(false, 8),
        y: {
          type: 'linear', min: ymin, max: ymax,
          afterBuildTicks: s => { s.ticks = yTicks.map(v => ({value: v})); },
          ticks: {padding: 11, color: '#1e1e1e', callback: labelFor},
          grid: tickGrid, border: {display: false},
          afterFit: yFit
        }
      }
    },
    plugins: [decor]
  });
}

linePanel('cA', [sal6, sal15, sal25, sal35, sal44, sal54], {top: 35, left: 0, right: 9, bottom: 7}, 26.6, 29.6, salTickVals,
  v => { const k = Math.round((v - 26.6) / 0.2); return k % 2 === 0 ? salTickLabels[k / 2] : ''; });
linePanel('cB', [temp6, temp15, temp25, temp35, temp44, temp54], {top: 48, left: 0, right: 9, bottom: 9}, -1.6, 6.0, tempTickVals,
  v => { const k = Math.round((v + 1.6) / 0.4); return k % 2 === 0 ? (tempTickLabels[k / 2] || '') : ''; });

new Chart(document.getElementById('cC'), {
  type: 'scatter',
  data: {
    datasets: [
      {label: turbDepths[1], data: spread(tur44), pointStyle: 'circle', pointRadius: 5.5, backgroundColor: turbColors[1], borderWidth: 0, clip: 0},
      {label: turbDepths[1], data: toXY(tur44Out), pointStyle: 'circle', pointRadius: 5.5, backgroundColor: turbColors[1], borderWidth: 0, clip: 0},
      {label: turbDepths[0], data: spread(tur6), pointStyle: 'cross', pointRadius: 5.5, borderColor: turbColors[0], borderWidth: 2.4, clip: 0},
      {label: turbDepths[0], data: spread(tur6Up), pointStyle: 'cross', pointRadius: 5.5, borderColor: turbColors[0], borderWidth: 2.4, clip: 0}
    ]
  },
  options: {
    responsive: false, animation: false,
    layout: {padding: {top: 40, left: 0, right: 9, bottom: 12}},
    plugins: {legend: {display: false}, tooltip: {enabled: false}},
    scales: {
      x: {type: 'linear', min: 0, max: 100, display: false},
      y: {
        type: 'logarithmic', min: 0.1, max: 310,
        afterBuildTicks: s => { s.ticks = logTickVals.map(v => ({value: v})); },
        ticks: {padding: 11, color: '#1e1e1e', autoSkip: false, callback: v => turbTickLabels[v] || ''},
        grid: tickGrid, border: {display: false},
        afterFit: yFit
      }
    }
  },
  plugins: [decor]
});

new Chart(document.getElementById('cD'), {
  type: 'scatter',
  data: {datasets: [{data: []}]},
  options: {
    responsive: false, animation: false,
    layout: {padding: {top: 3, left: 66, right: 9, bottom: 0}},
    plugins: {legend: {display: false}, tooltip: {enabled: false}},
    scales: {
      x: xScale(true, 79),
      y: {display: false, min: 0, max: 1}
    }
  }
});

// ---------- legends ----------
function lineLegend(id, rowTops) {
  const box = document.getElementById(id);
  depths.forEach((name, i) => {
    const ln = document.createElement('div');
    ln.className = 'lline';
    ln.style.cssText = `left:9px;top:${rowTops[i] - 1.5}px;width:45px;height:${i === 0 ? 3.2 : 2.6}px;background:${lineColors[i]}`;
    box.appendChild(ln);
    const tx = document.createElement('div');
    tx.className = 'lrow';
    tx.style.cssText = `left:59px;top:${rowTops[i] - 10}px`;
    tx.textContent = name;
    box.appendChild(tx);
  });
}
lineLegend('legA', [13, 44, 74, 105, 135, 166]);
lineLegend('legB', [14, 44, 74, 105, 135, 166]);
(function () {
  const box = document.getElementById('legC');
  const c1 = document.createElement('div');
  c1.style.cssText = `position:absolute;left:11px;top:15px;width:13px;height:3px;background:${turbColors[0]}`;
  const c2 = document.createElement('div');
  c2.style.cssText = `position:absolute;left:16px;top:10px;width:3px;height:13px;background:${turbColors[0]}`;
  const dot = document.createElement('div');
  dot.style.cssText = `position:absolute;left:12px;top:50px;width:10px;height:10px;border-radius:50%;background:${turbColors[1]}`;
  [c1, c2, dot].forEach(e => box.appendChild(e));
  [[turbDepths[0], 6], [turbDepths[1], 45]].forEach(([t, top]) => {
    const tx = document.createElement('div');
    tx.className = 'lrow';
    tx.style.cssText = `left:30px;top:${top}px`;
    tx.textContent = t;
    box.appendChild(tx);
  });
})();
</script>
</body>
</html>
